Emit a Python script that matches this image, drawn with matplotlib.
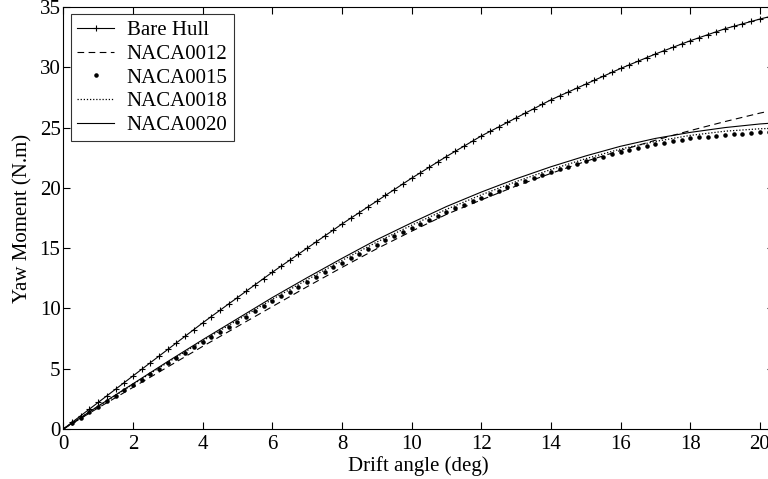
import numpy as np
import matplotlib
matplotlib.use("Agg")
import matplotlib.pyplot as plt

plt.rcParams['font.family'] = ['Liberation Serif', 'DejaVu Serif']
plt.rcParams['mathtext.fontset'] = 'stix'

# fine grid for marker series (deg)
x_fine = [0, 0.25, 0.5, 0.75, 1, 1.25, 1.5, 1.75, 2, 2.25, 2.5, 2.75, 3, 3.25, 3.5, 3.75,
          4, 4.25, 4.5, 4.75, 5, 5.25, 5.5, 5.75, 6, 6.25, 6.5, 6.75, 7, 7.25, 7.5, 7.75,
          8, 8.25, 8.5, 8.75, 9, 9.25, 9.5, 9.75, 10, 10.25, 10.5, 10.75, 11, 11.25, 11.5, 11.75,
          12, 12.25, 12.5, 12.75, 13, 13.25, 13.5, 13.75, 14, 14.25, 14.5, 14.75, 15, 15.25, 15.5, 15.75,
          16, 16.25, 16.5, 16.75, 17, 17.25, 17.5, 17.75, 18, 18.25, 18.5, 18.75, 19, 19.25, 19.5, 19.75,
          20, 20.25, 20.5]

bare_hull = [0, 0.55, 1.10, 1.65, 2.20, 2.75, 3.30, 3.85, 4.40, 4.95, 5.50, 6.05, 6.60, 7.15, 7.70, 8.25,
             8.80, 9.33, 9.85, 10.38, 10.90, 11.43, 11.95, 12.48, 13.00, 13.50, 14.00, 14.50, 15.00, 15.50, 16.00, 16.50,
             17.00, 17.48, 17.95, 18.43, 18.90, 19.38, 19.85, 20.33, 20.80, 21.25, 21.70, 22.15, 22.60, 23.03, 23.45, 23.88,
             24.30, 24.68, 25.05, 25.43, 25.80, 26.18, 26.55, 26.93, 27.30, 27.63, 27.95, 28.28, 28.60, 28.93, 29.25, 29.58,
             29.90, 30.20, 30.50, 30.80, 31.10, 31.38, 31.65, 31.93, 32.20, 32.45, 32.70, 32.95, 33.20, 33.40, 33.60, 33.80,
             34.00, 34.18, 34.35]

naca0015 = [0, 0.46, 0.93, 1.39, 1.85, 2.30, 2.75, 3.20, 3.65, 4.10, 4.55, 5.00, 5.45, 5.89, 6.33, 6.76,
            7.20, 7.63, 8.05, 8.48, 8.90, 9.33, 9.75, 10.18, 10.60, 11.00, 11.40, 11.80, 12.20, 12.60, 13.00, 13.40,
            13.80, 14.18, 14.55, 14.93, 15.30, 15.65, 16.00, 16.35, 16.70, 17.03, 17.35, 17.68, 18.00, 18.30, 18.60, 18.90,
            19.20, 19.48, 19.75, 20.03, 20.30, 20.55, 20.80, 21.05, 21.30, 21.53, 21.75, 21.98, 22.20, 22.40, 22.60, 22.80,
            23.00, 23.15, 23.30, 23.45, 23.60, 23.73, 23.85, 23.98, 24.10, 24.18, 24.25, 24.33, 24.40, 24.45, 24.50, 24.55,
            24.60, 24.62, 24.65]

# coarse grid for line-only series (deg)
x_coarse = [0, 1, 2, 3, 4, 5, 6, 7, 8, 9, 10, 11, 12, 13, 14, 15, 16, 17, 18, 19, 20, 20.5]
naca0012 = [0, 1.75, 3.45, 5.15, 6.85, 8.5, 10.15, 11.8, 13.4, 14.95, 16.4, 17.8, 19.0, 20.15,
            21.2, 22.2, 23.1, 23.95, 24.75, 25.5, 26.2, 26.5]
naca0018 = [0, 1.88, 3.7, 5.52, 7.3, 9.03, 10.75, 12.38, 13.98, 15.5, 16.9, 18.22, 19.42, 20.52,
            21.52, 22.42, 23.22, 23.85, 24.35, 24.7, 24.9, 24.95]
naca0020 = [0, 1.9, 3.75, 5.6, 7.4, 9.15, 10.9, 12.55, 14.15, 15.7, 17.1, 18.45, 19.65, 20.75,
            21.75, 22.65, 23.45, 24.1, 24.6, 25.0, 25.3, 25.4]

x_ticks = [0, 2, 4, 6, 8, 10, 12, 14, 16, 18, 20]
y_ticks = [0, 5, 10, 15, 20, 25, 30, 35]

FS = 15
W, H = 768, 479
fig = plt.figure(figsize=(W / 100, H / 100), dpi=100)
left, right, top, bottom = 63.3, 774.0, 7.0, 429.0
ax = fig.add_axes([left / W, 1 - bottom / H, (right - left) / W, (bottom - top) / H])

ax.plot(x_fine, bare_hull, color='black', lw=0.8, marker='+', ms=4, mew=0.8, label='Bare Hull')
ax.plot(x_coarse, naca0012, color='black', lw=0.8, ls=(0, (6, 4)), label='NACA0012')
ax.plot(x_fine, naca0015, color='black', ls='none', marker='.', ms=4.5, label='NACA0015')
ax.plot(x_coarse, naca0018, color='black', lw=0.9, ls=(0, (1, 1.5)), label='NACA0018')
ax.plot(x_coarse, naca0020, color='black', lw=0.8, ls='-', label='NACA0020')

ax.set_xlim(0, (right - left) / 34.83)
ax.set_ylim(0, 35)
ax.set_xticks(x_ticks)
ax.set_yticks(y_ticks)
ax.tick_params(direction='in', length=5, width=0.8, top=True, right=True, labelsize=FS)
ax.tick_params(axis='x', pad=4)
ax.tick_params(axis='y', pad=2)
for s in ax.spines.values():
    s.set_linewidth(0.8)

ax.set_xlabel('Drift angle (deg)', fontsize=FS, labelpad=2)
ax.set_ylabel('Yaw Moment (N.m)', fontsize=FS, labelpad=5)

leg = ax.legend(loc='upper left', fontsize=FS, frameon=True, fancybox=False, edgecolor='black',
                borderaxespad=0.35, handlelength=1.8, handletextpad=0.6, borderpad=0.3, labelspacing=0.2)
leg.get_frame().set_linewidth(0.8)

fig.savefig('out.png', dpi=100)
